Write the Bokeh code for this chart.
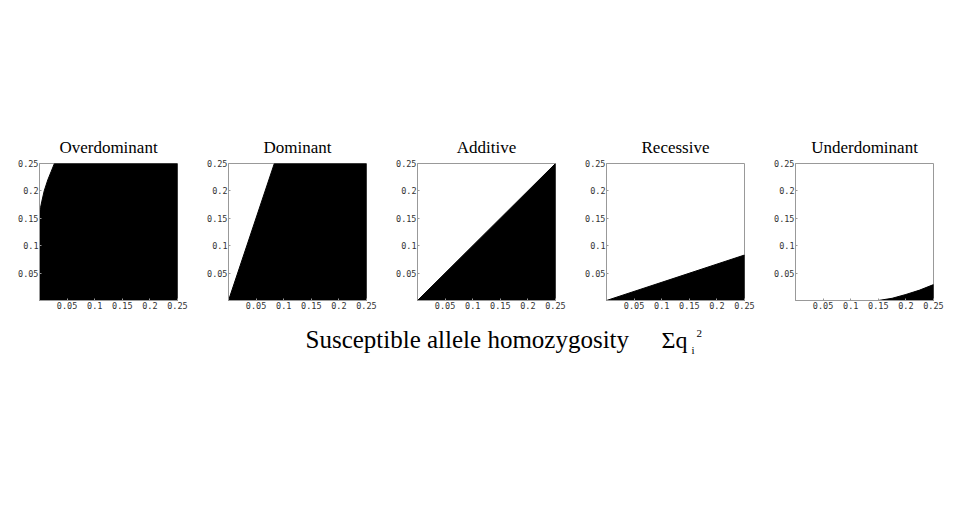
from bokeh.plotting import figure
from bokeh.layouts import row, column, Spacer
from bokeh.models import FixedTicker, Range1d, Label
from bokeh.embed import file_html
from bokeh.resources import INLINE

# ---- data ----
titles = ["Overdominant", "Dominant", "Additive", "Recessive", "Underdominant"]
ticks = [0.05, 0.1, 0.15, 0.2, 0.25]
tick_labels = ["0.05", "0.1", "0.15", "0.2", "0.25"]
axis_max = 0.25

# boundary curves of the black regions
overdominant_x = [0.0, 0.002, 0.004, 0.0085, 0.015, 0.021, 0.027]
overdominant_y = [0.16, 0.17, 0.18, 0.20, 0.22, 0.235, 0.25]
dominant_x = [0.0, 0.083]
dominant_y = [0.0, 0.25]
additive_x = [0.0, 0.25]
additive_y = [0.0, 0.25]
recessive_x = [0.0, 0.25]
recessive_y = [0.0, 0.083]
underdominant_x = [0.15, 0.175, 0.2, 0.225, 0.25]
underdominant_y = [0.0, 0.004, 0.011, 0.019, 0.029]

# polygons: boundary + closing corners of the square domain
polys = [
    (overdominant_x + [axis_max, axis_max, 0.0], overdominant_y + [axis_max, 0.0, 0.0]),
    (dominant_x + [axis_max, axis_max], dominant_y + [axis_max, 0.0]),
    (additive_x + [axis_max], additive_y + [0.0]),
    (recessive_x + [axis_max], recessive_y + [0.0]),
    (underdominant_x + [axis_max], underdominant_y + [0.0]),
]

GREY = "#999999"
figs = []
for i, (t, (px, py)) in enumerate(zip(titles, polys)):
    p = figure(
        width=189,
        height=312,
        frame_width=138,
        frame_height=137,
        min_border_left=31,
        min_border_right=20,
        min_border_top=155,
        min_border_bottom=20,
        x_range=Range1d(0, axis_max),
        y_range=Range1d(0, axis_max),
        output_backend="svg",
        toolbar_location=None,
        title=t,
    )
    p.patch(px, py, fill_color="black", line_color="black", line_width=1)
    p.title.text_font = "Liberation Serif"
    p.title.text_font_size = "17px"
    p.title.text_font_style = "normal"
    p.title.align = "center"
    p.title.text_color = "black"
    p.title.standoff = 13
    p.grid.visible = False
    p.outline_line_color = GREY
    p.outline_line_width = 1
    p.background_fill_color = "white"
    p.border_fill_color = "white"
    for ax in (p.xaxis, p.yaxis):
        ax.ticker = FixedTicker(ticks=ticks)
        ax.major_label_overrides = {k: v for k, v in zip(ticks, tick_labels)}
        ax.axis_line_color = GREY
        ax.major_tick_line_color = GREY
        ax.major_tick_in = 2
        ax.major_tick_out = 0
        ax.minor_tick_line_color = None
        ax.major_label_text_font = "DejaVu Sans Mono"
        ax.major_label_text_font_size = "8.5px"
        ax.major_label_text_color = "#333333"
        ax.major_label_standoff = 1
    figs.append(p)

lab = figure(width=930, height=60, x_range=Range1d(0, 930), y_range=Range1d(0, 60),
             output_backend="svg", toolbar_location=None, min_border=0)
lab.axis.visible = False
lab.grid.visible = False
lab.outline_line_color = None
font = "Liberation Serif"
lab.add_layout(Label(x=297, y=41, x_units="screen", y_units="screen",
                     text="Susceptible allele homozygosity", text_font=font, text_color="black",
                     text_font_size="25px", text_baseline="middle", text_align="left"))
lab.add_layout(Label(x=653, y=41, x_units="screen", y_units="screen",
                     text="\u03a3q", text_font=font, text_color="black",
                     text_font_size="24px", text_baseline="middle", text_align="left"))
lab.add_layout(Label(x=683, y=31, x_units="screen", y_units="screen",
                     text="i", text_font=font, text_color="black",
                     text_font_size="11px", text_baseline="middle", text_align="left"))
lab.add_layout(Label(x=688, y=47, x_units="screen", y_units="screen",
                     text="2", text_font=font, text_color="black",
                     text_font_size="11px", text_baseline="middle", text_align="left"))

layout = column(
    Spacer(height=8),
    row(Spacer(width=8), *figs, spacing=0),
    row(Spacer(width=8), lab, spacing=0),
    spacing=0,
)
open("out.html", "w").write(file_html(layout, INLINE))
